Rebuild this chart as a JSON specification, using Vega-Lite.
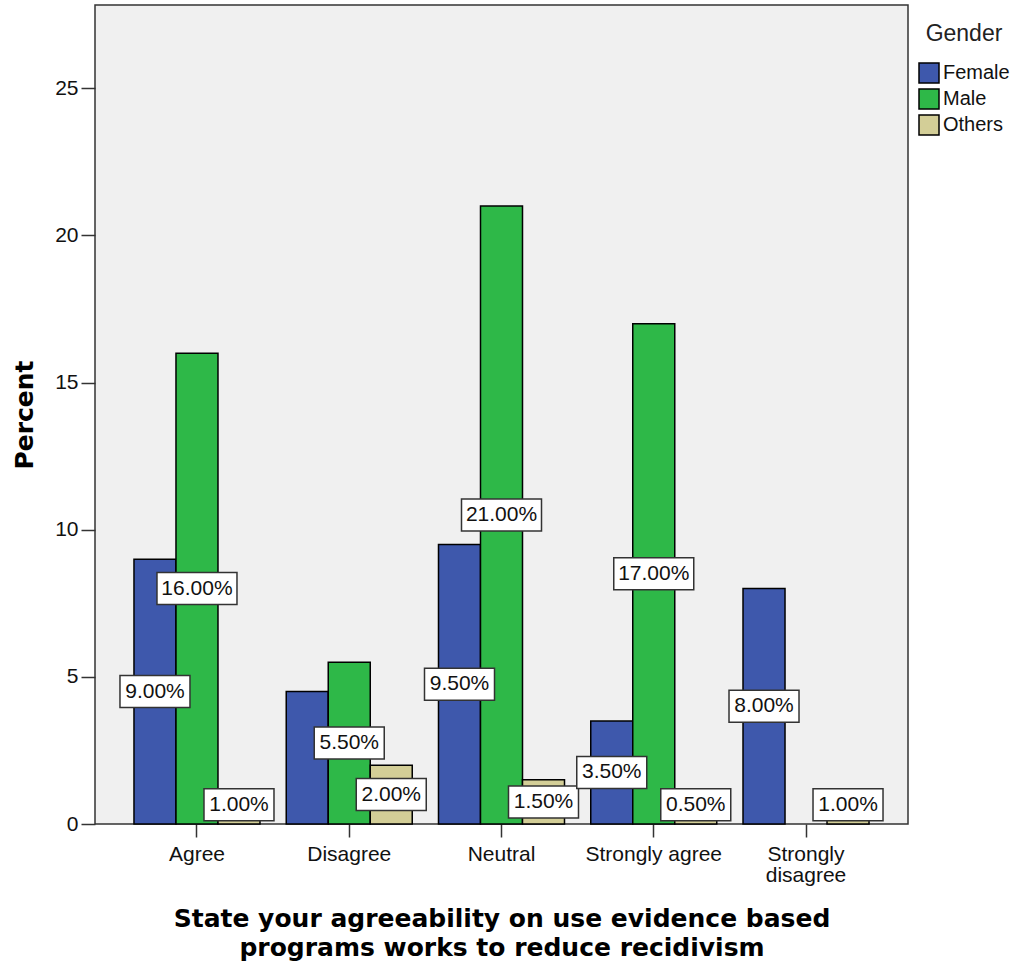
{
  "$schema": "https://vega.github.io/schema/vega-lite/v6.json",
  "autosize": {"type": "none"},
  "padding": {"left": 95, "top": 5, "right": 103, "bottom": 143},
  "width": 813,
  "height": 819,
  "background": "white",
  "config": {
    "view": {"fill": "#f0f0f0", "stroke": "#333333", "strokeWidth": 1.5},
    "legend": {
      "orient": "none",
      "legendX": 823,
      "legendY": 18,
      "padding": 0,
      "titleFont": "Liberation Sans",
      "titleFontSize": 23,
      "titleFontWeight": "normal",
      "titleColor": "#222222",
      "titleAnchor": "middle",
      "titlePadding": 16,
      "labelFont": "Liberation Sans",
      "labelFontSize": 20,
      "labelColor": "#111111",
      "labelOffset": 3,
      "symbolType": "square",
      "symbolSize": 400,
      "symbolStrokeColor": "#000000",
      "symbolStrokeWidth": 1.5,
      "symbolOpacity": 1,
      "rowPadding": 0
    }
  },
  "data": {
    "values": [
      {"response": "Agree", "gender": "Female", "pct": 9.0},
      {"response": "Agree", "gender": "Male", "pct": 16.0},
      {"response": "Agree", "gender": "Others", "pct": 1.0},
      {"response": "Disagree", "gender": "Female", "pct": 4.5},
      {"response": "Disagree", "gender": "Male", "pct": 5.5},
      {"response": "Disagree", "gender": "Others", "pct": 2.0},
      {"response": "Neutral", "gender": "Female", "pct": 9.5},
      {"response": "Neutral", "gender": "Male", "pct": 21.0},
      {"response": "Neutral", "gender": "Others", "pct": 1.5},
      {"response": "Strongly agree", "gender": "Female", "pct": 3.5},
      {"response": "Strongly agree", "gender": "Male", "pct": 17.0},
      {"response": "Strongly agree", "gender": "Others", "pct": 0.5},
      {"response": "Strongly disagree", "gender": "Female", "pct": 8.0},
      {"response": "Strongly disagree", "gender": "Others", "pct": 1.0}
    ]
  },
  "transform": [
    {"calculate": "format(datum.pct, '.2f') + '%'", "as": "label"},
    {"calculate": "max(datum.pct / 2, 0.65)", "as": "mid"}
  ],
  "encoding": {
    "x": {
      "field": "response",
      "type": "nominal",
      "sort": ["Agree", "Disagree", "Neutral", "Strongly agree", "Strongly disagree"],
      "scale": {"paddingInner": 0.1724, "paddingOuter": 0.256},
      "axis": {
        "title": ["State your agreeability on use evidence based", "programs works to reduce recidivism"],
        "labelAngle": 0,
        "domain": false,
        "grid": false,
        "tickSize": 13,
        "tickColor": "#333333",
        "tickWidth": 1.5,
        "labelPadding": 6,
        "labelFont": "Liberation Sans",
        "labelFontSize": 21,
        "labelColor": "#111111",
        "labelLineHeight": 21,
        "labelBaseline": "top",
        "labelExpr": "datum.value == 'Strongly disagree' ? ['Strongly', 'disagree'] : datum.value",
        "titleFont": "DejaVu Sans",
        "titleFontSize": 25,
        "titleFontWeight": "bold",
        "titleColor": "#000000",
        "titleLineHeight": 29,
        "titleBaseline": "alphabetic",
        "titleAlign": "center",
        "titleX": 406.5,
        "titleY": 102.5
      }
    },
    "xOffset": {"field": "gender", "type": "nominal", "sort": ["Female", "Male", "Others"]}
  },
  "layer": [
    {
      "mark": {"type": "bar", "stroke": "#000000", "strokeWidth": 1.5, "opacity": 1},
      "encoding": {
        "y": {
          "field": "pct",
          "type": "quantitative",
          "title": "Percent",
          "scale": {"domain": [0, 27.83], "nice": false, "zero": true},
          "axis": {
            "values": [0, 5, 10, 15, 20, 25],
            "grid": false,
            "domain": false,
            "tickSize": 14,
            "tickColor": "#333333",
            "tickWidth": 1.5,
            "labelPadding": 3,
            "labelFont": "Liberation Sans",
            "labelFontSize": 21,
            "labelColor": "#111111",
            "titleFont": "DejaVu Sans",
            "titleFontSize": 25,
            "titleFontWeight": "bold",
            "titleColor": "#000000",
            "titleAngle": 270,
            "titleAlign": "center",
            "titleBaseline": "alphabetic",
            "titleX": -63,
            "titleY": 409.5
          }
        },
        "color": {
          "field": "gender",
          "type": "nominal",
          "title": "Gender",
          "scale": {"domain": ["Female", "Male", "Others"], "range": ["#3E58AC", "#2EB848", "#D3CE97"]}
        }
      }
    },
    {
      "transform": [{"filter": "!(datum.response == 'Disagree' && datum.gender == 'Female')"}],
      "mark": {"type": "point", "filled": true, "fill": "#ffffff", "stroke": "#333333", "strokeWidth": 1.5, "size": 6400, "opacity": 1},
      "encoding": {
        "y": {
          "field": "mid",
          "type": "quantitative",
          "title": "Percent",
          "axis": {
            "values": [0, 5, 10, 15, 20, 25],
            "grid": false,
            "domain": false,
            "tickSize": 14,
            "tickColor": "#333333",
            "tickWidth": 1.5,
            "labelPadding": 3,
            "labelFont": "Liberation Sans",
            "labelFontSize": 21,
            "labelColor": "#111111",
            "titleFont": "DejaVu Sans",
            "titleFontSize": 25,
            "titleFontWeight": "bold",
            "titleColor": "#000000",
            "titleAngle": 270,
            "titleAlign": "center",
            "titleBaseline": "alphabetic",
            "titleX": -63,
            "titleY": 409.5
          }
        },
        "shape": {
          "condition": {"test": "length(datum.label) > 5", "value": "M-1,-0.4L1,-0.4L1,0.4L-1,0.4Z"},
          "value": "M-0.875,-0.4L0.875,-0.4L0.875,0.4L-0.875,0.4Z"
        }
      }
    },
    {
      "transform": [{"filter": "!(datum.response == 'Disagree' && datum.gender == 'Female')"}],
      "mark": {"type": "text", "font": "Liberation Sans", "fontSize": 21, "baseline": "middle", "align": "center", "color": "#111111"},
      "encoding": {
        "y": {
          "field": "mid",
          "type": "quantitative",
          "title": "Percent",
          "axis": {
            "values": [0, 5, 10, 15, 20, 25],
            "grid": false,
            "domain": false,
            "tickSize": 14,
            "tickColor": "#333333",
            "tickWidth": 1.5,
            "labelPadding": 3,
            "labelFont": "Liberation Sans",
            "labelFontSize": 21,
            "labelColor": "#111111",
            "titleFont": "DejaVu Sans",
            "titleFontSize": 25,
            "titleFontWeight": "bold",
            "titleColor": "#000000",
            "titleAngle": 270,
            "titleAlign": "center",
            "titleBaseline": "alphabetic",
            "titleX": -63,
            "titleY": 409.5
          }
        },
        "text": {"field": "label", "type": "nominal"}
      }
    }
  ]
}
